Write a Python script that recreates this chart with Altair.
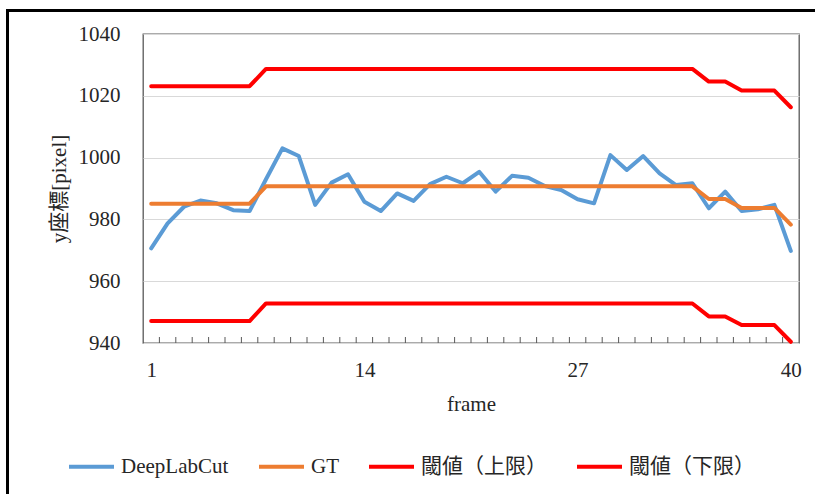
import altair as alt
import pandas as pd

frames = list(range(1, 41))

deeplabcut = [970.6, 978.7, 984.1, 986.1, 985.2, 983.0, 982.7, 993.0, 1003.0, 1000.5,
              984.7, 991.9, 994.6, 985.7, 982.7, 988.4, 986.0, 991.4, 993.8, 991.7,
              995.4, 989.0, 994.1, 993.5, 990.8, 989.5, 986.5, 985.2, 1000.8, 996.0,
              1000.5, 994.9, 991.1, 991.7, 983.6, 989.0, 982.7, 983.3, 984.7, 969.8]

gt = [985.1, 985.1, 985.1, 985.1, 985.1, 985.1, 985.1, 990.7, 990.7, 990.7,
      990.7, 990.7, 990.7, 990.7, 990.7, 990.7, 990.7, 990.7, 990.7, 990.7,
      990.7, 990.7, 990.7, 990.7, 990.7, 990.7, 990.7, 990.7, 990.7, 990.7,
      990.7, 990.7, 990.7, 990.7, 986.6, 986.6, 983.7, 983.7, 983.7, 978.3]

upper = [1023.1, 1023.1, 1023.1, 1023.1, 1023.1, 1023.1, 1023.1, 1028.7, 1028.7, 1028.7,
         1028.7, 1028.7, 1028.7, 1028.7, 1028.7, 1028.7, 1028.7, 1028.7, 1028.7, 1028.7,
         1028.7, 1028.7, 1028.7, 1028.7, 1028.7, 1028.7, 1028.7, 1028.7, 1028.7, 1028.7,
         1028.7, 1028.7, 1028.7, 1028.7, 1024.6, 1024.6, 1021.7, 1021.7, 1021.7, 1016.3]

lower = [947.1, 947.1, 947.1, 947.1, 947.1, 947.1, 947.1, 952.8, 952.8, 952.8,
         952.8, 952.8, 952.8, 952.8, 952.8, 952.8, 952.8, 952.8, 952.8, 952.8,
         952.8, 952.8, 952.8, 952.8, 952.8, 952.8, 952.8, 952.8, 952.8, 952.8,
         952.8, 952.8, 952.8, 952.8, 948.6, 948.6, 945.8, 945.8, 945.8, 940.4]

series_names = ["DeepLabCut", "GT", "閾値（上限）", "閾値（下限）"]
series_colors = ["#5b9bd5", "#ed7d31", "#ff0000", "#ff0000"]
x_tick_labels = [1, 14, 27, 40]
y_ticks = [940, 960, 980, 1000, 1020, 1040]

FONT = "Liberation Serif, Noto Sans CJK JP"
TXT = "#262626"
W, H = 656, 309

rows = []
for name, vals in zip(series_names, [deeplabcut, gt, upper, lower]):
    for f, v in zip(frames, vals):
        rows.append({"frame": f, "value": v, "series": name})
df = pd.DataFrame(rows)

bounds = pd.DataFrame({"b": [f + 0.5 for f in frames[:-1]]})

xscale = alt.Scale(domain=[0.5, 40.5], nice=False, zero=False)
yscale = alt.Scale(domain=[940, 1040], nice=False, zero=False)
cscale = alt.Scale(domain=series_names, range=series_colors)

xaxis = alt.Axis(values=x_tick_labels, format="d", ticks=False, tickSize=0, grid=False,
                 domain=False, labelFont=FONT, labelFontSize=21, labelColor=TXT,
                 labelPadding=16, title="frame", titleFont=FONT, titleFontSize=21,
                 titleColor=TXT, titleFontWeight="normal", titlePadding=13,
                 labelFlush=False)
yaxis = alt.Axis(values=y_ticks, format="d", ticks=False, tickSize=0, grid=True,
                 gridColor="#d9d9d9", gridWidth=1, domain=False, labelFont=FONT,
                 labelFontSize=21, labelColor=TXT, labelPadding=23, title="y座標[pixel]",
                 titleFont=FONT, titleFontSize=21, titleColor=TXT,
                 titleFontWeight="normal", titlePadding=9)

legend = alt.Legend(orient="none", legendX=-76, legendY=408, direction="horizontal",
                    columns=4, title=None, symbolType="stroke", symbolSize=2025,
                    symbolStrokeWidth=4, labelFont=FONT, labelFontSize=21,
                    labelColor=TXT, labelOffset=5, columnPadding=22, padding=0,
                    labelLimit=400)

base = alt.Chart(df).encode(
    x=alt.X("frame:Q", scale=xscale, axis=xaxis),
    y=alt.Y("value:Q", scale=yscale, axis=yaxis),
    color=alt.Color("series:N", scale=cscale, legend=legend),
)

layers = []
for name in series_names:
    layers.append(
        base.transform_filter(alt.datum.series == name)
        .mark_line(strokeWidth=4, strokeCap="round", strokeJoin="round")
    )

ticks = alt.Chart(bounds).mark_rule(color="#595959", strokeWidth=1).encode(
    x=alt.X("b:Q", scale=xscale, axis=xaxis),
    y=alt.value(H - 6), y2=alt.value(H),
)

one = pd.DataFrame({"k": [0]})
border_top = alt.Chart(one).mark_rule(color="#000000", strokeWidth=3).encode(
    x=alt.value(-135.5), x2=alt.value(672), y=alt.value(-23.5), y2=alt.value(-23.5))
border_left = alt.Chart(one).mark_rule(color="#000000", strokeWidth=3).encode(
    x=alt.value(-135.5), x2=alt.value(-135.5), y=alt.value(-25), y2=alt.value(460))

chart = alt.layer(*layers, ticks, border_top, border_left).properties(
    width=W, height=H,
    autosize=alt.AutoSizeParams(type="none"),
    padding={"left": 143, "top": 34, "right": 16, "bottom": 151},
    background="white",
).configure_view(stroke="#595959", strokeWidth=1.3)

chart.save("out.html", embed_options={"renderer": "svg", "actions": False})
